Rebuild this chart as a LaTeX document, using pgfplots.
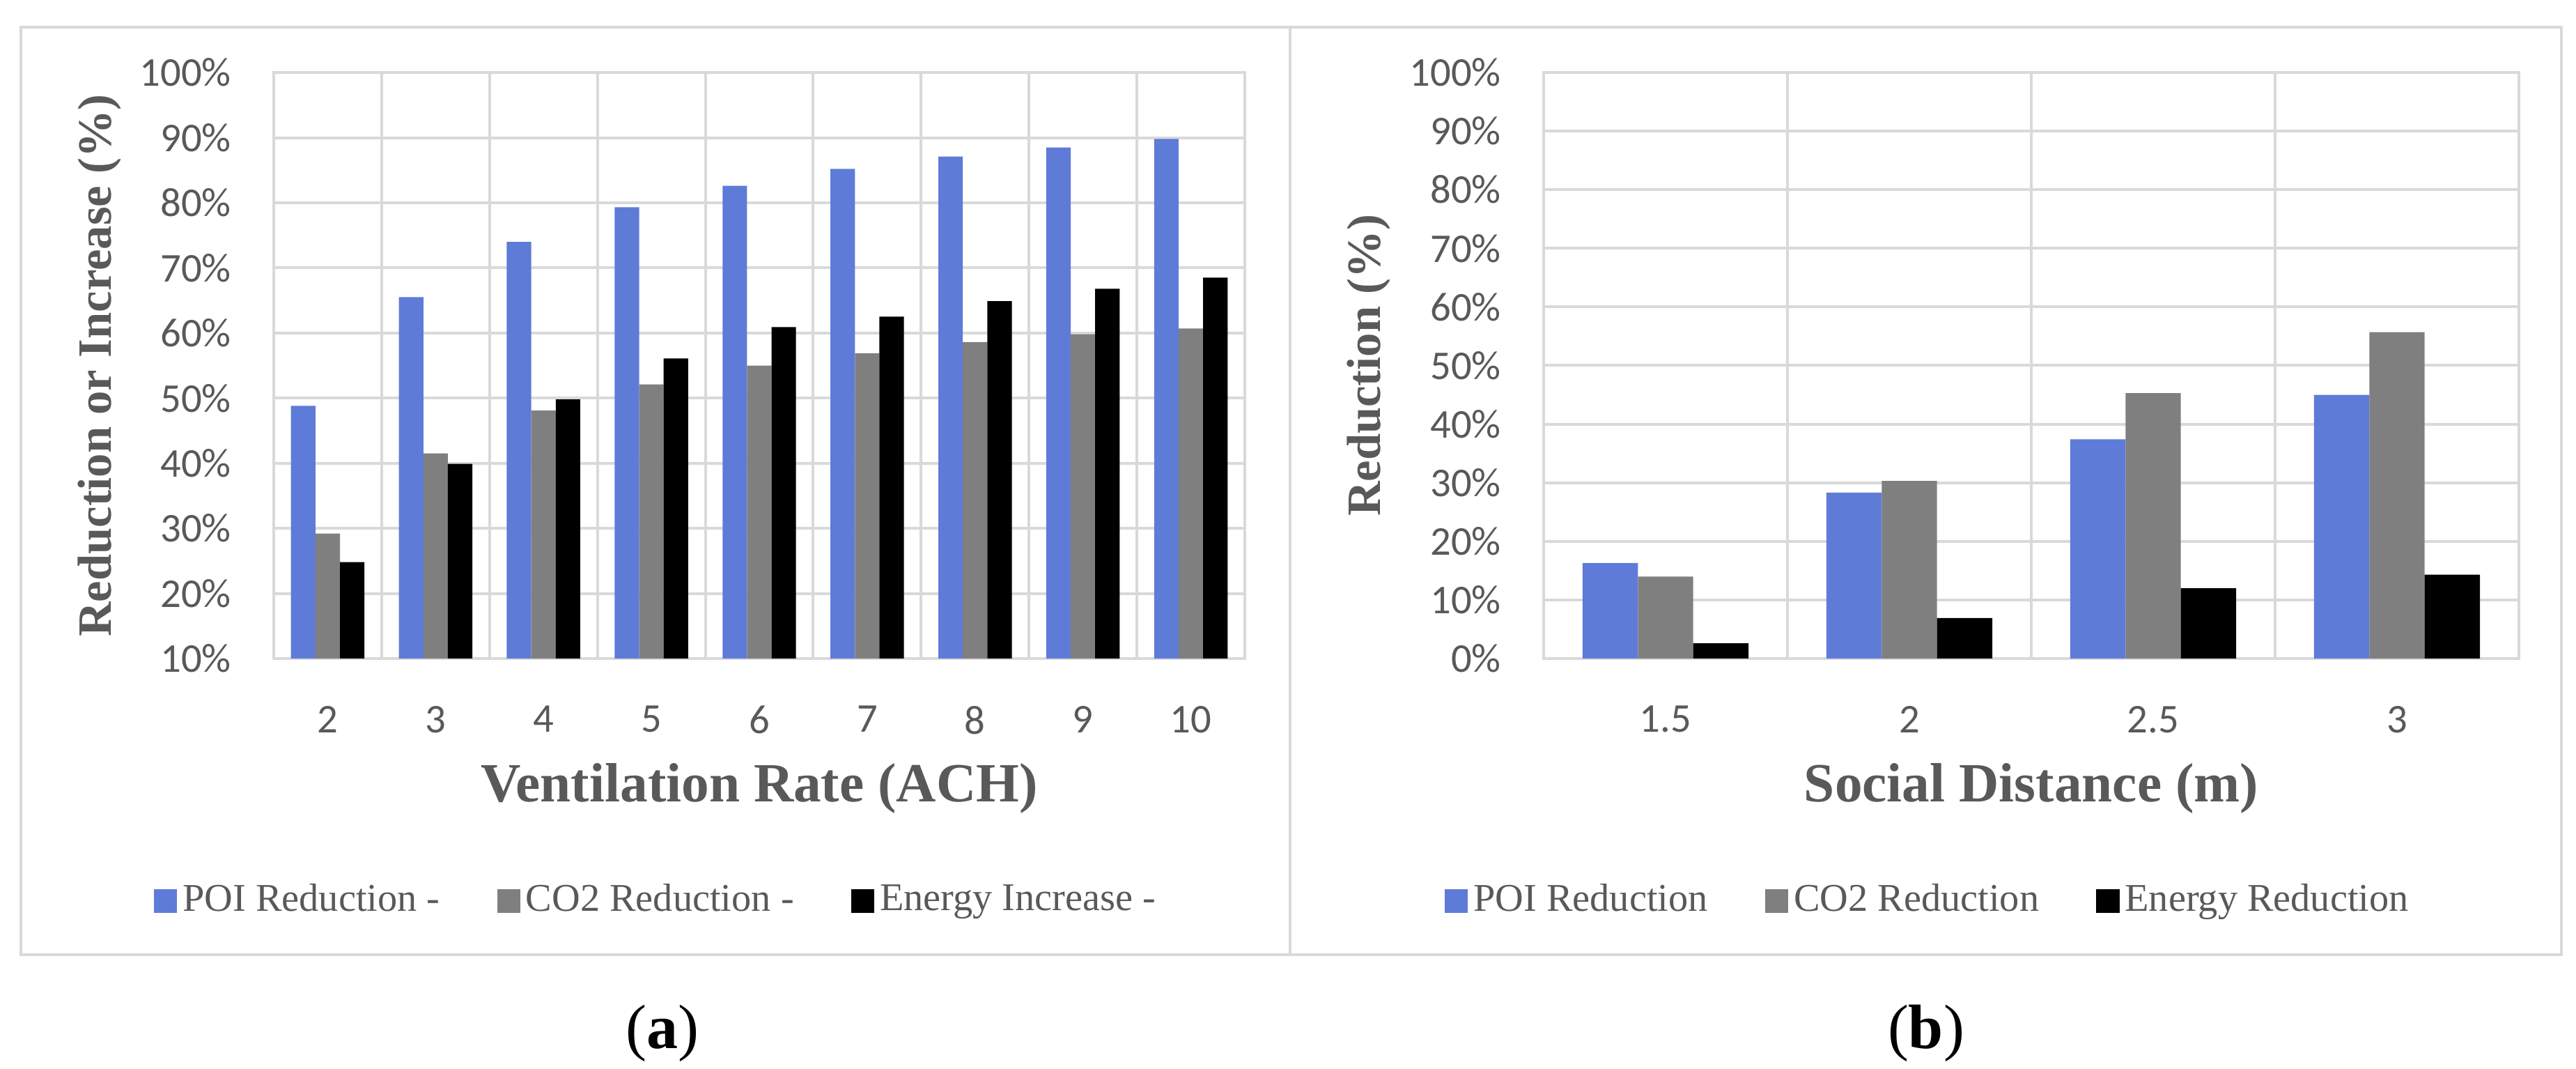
\documentclass[border=0pt]{standalone}
\usepackage{pgfplots}
\usepackage{pgfplotstable}
\pgfplotsset{compat=1.18}
\usepackage{fontspec}
\setmainfont{Liberation Serif}
\newfontfamily\tickfont{Carlito}

\definecolor{poiblue}{HTML}{5F7BD8}
\definecolor{co2grey}{HTML}{7F7F7F}
\definecolor{gridgrey}{HTML}{D9D9D9}
\definecolor{framegrey}{HTML}{D9D9D9}
\definecolor{textgrey}{HTML}{595959}

% ventilation rate (ACH) vs reduction / increase in %
\pgfplotstableread{
ach poi co2 energy
2  48.8 29.2 24.8
3  65.5 41.5 39.9
4  74.0 48.1 49.8
5  79.3 52.1 56.1
6  82.6 55.0 60.9
7  85.2 56.9 62.5
8  87.1 58.6 64.9
9  88.5 59.8 66.8
10 89.8 60.7 68.5
}\ventdata

% social distance (m), plotted at 0..3
\pgfplotstableread{
idx poi co2 energy
0 16.3 14.0 2.6
1 28.3 30.3 6.9
2 37.4 45.3 12.0
3 45.0 55.7 14.3
}\distdata

\pgfplotsset{
  panel/.style={
    scale only axis,
    anchor=south west,
    height=126.15pt,
    ybar,
    bar width=0.227,
    axis line style={draw=gridgrey, line width=0.6pt},
    major tick length=0pt,
    minor tick length=0pt,
    ymajorgrids=true,
    xminorgrids=true,
    grid style={draw=gridgrey, line width=0.6pt},
    minor grid style={draw=gridgrey, line width=0.6pt},
    yticklabel style={font=\tickfont\fontsize{8.8}{10}\selectfont, text=textgrey, anchor=east, inner sep=0pt, xshift=-9pt},
    xticklabel style={font=\tickfont\fontsize{8.8}{10}\selectfont, text=textgrey, anchor=north, inner sep=0pt, yshift=-10pt},
    xlabel style={font=\bfseries\fontsize{11.9}{13}\selectfont, text=textgrey, at={(axis description cs:0.5,0)}, anchor=center, inner sep=0pt, yshift=-27.9pt},
    ylabel style={font=\bfseries\fontsize{10.3}{12}\selectfont, text=textgrey, at={(axis description cs:-0.179,0.5)}, anchor=center, inner sep=0pt},
    legend columns=3,
    legend style={draw=none, fill=none, inner sep=0pt, outer sep=0pt,
      font=\fontsize{8.45}{10}\selectfont, text=textgrey,
      nodes={inner sep=0pt},
      /tikz/every odd column/.append style={column sep=1.2pt},
      /tikz/every even column/.append style={column sep=12.3pt}},
  },
  sq/.style={draw=none, fill=#1,
    legend image code/.code={\fill[#1] (0pt,-2.5pt) rectangle (5pt,2.5pt);}},
}

\begin{document}
\begin{tikzpicture}
\path[use as bounding box] (0,0) rectangle (554.7pt,230.1pt);
\draw[framegrey, line width=0.6pt] (4.5pt,24.6pt) rectangle (277.8pt,224.25pt);
\draw[framegrey, line width=0.6pt] (277.8pt,24.6pt) rectangle (551.55pt,224.25pt);

\begin{axis}[panel,
  at={(58.95pt,88.35pt)}, width=209.1pt,
  xmin=1.5, xmax=10.5,
  ymin=10, ymax=100,
  xtick={2,...,10},
  xticklabels={2,3,4,5,6,7,8,9,10},
  minor xtick={2.5,3.5,...,9.5},
  ytick={10,20,...,100},
  yticklabels={10\%,20\%,30\%,40\%,50\%,60\%,70\%,80\%,90\%,100\%},
  xlabel={Ventilation Rate (ACH)},
  ylabel={Reduction or Increase (\%)},
  legend style={at={(-0.1234,-0.4138)}, anchor=west},
]
\addplot[sq=poiblue, bar shift=-0.227] table[x=ach, y=poi] {\ventdata};
\addplot[sq=co2grey, bar shift=0] table[x=ach, y=co2] {\ventdata};
\addplot[sq=black, bar shift=0.227] table[x=ach, y=energy] {\ventdata};
\legend{POI Reduction -, CO2 Reduction -, Energy Increase -}
\end{axis}

\begin{axis}[panel,
  at={(332.4pt,88.35pt)}, width=210pt,
  xmin=-0.5, xmax=3.5,
  ymin=0, ymax=100,
  xtick={0,1,2,3},
  xticklabels={1.5,2,2.5,3},
  minor xtick={0.5,1.5,2.5},
  ytick={0,10,...,100},
  yticklabels={0\%,10\%,20\%,30\%,40\%,50\%,60\%,70\%,80\%,90\%,100\%},
  xlabel={Social Distance (m)},
  ylabel={Reduction (\%)},
  legend style={at={(-0.1014,-0.4138)}, anchor=west},
]
\addplot[sq=poiblue, bar shift=-0.227] table[x=idx, y=poi] {\distdata};
\addplot[sq=co2grey, bar shift=0] table[x=idx, y=co2] {\distdata};
\addplot[sq=black, bar shift=0.227] table[x=idx, y=energy] {\distdata};
\legend{POI Reduction, CO2 Reduction, Energy Reduction}
\end{axis}

\node[font=\fontsize{13.5}{15}\selectfont, inner sep=0pt] at (142.6pt,7.65pt) {(\textbf{a})};
\node[font=\fontsize{13.5}{15}\selectfont, inner sep=0pt] at (414.75pt,7.65pt) {(\textbf{b})};
\end{tikzpicture}
\end{document}
